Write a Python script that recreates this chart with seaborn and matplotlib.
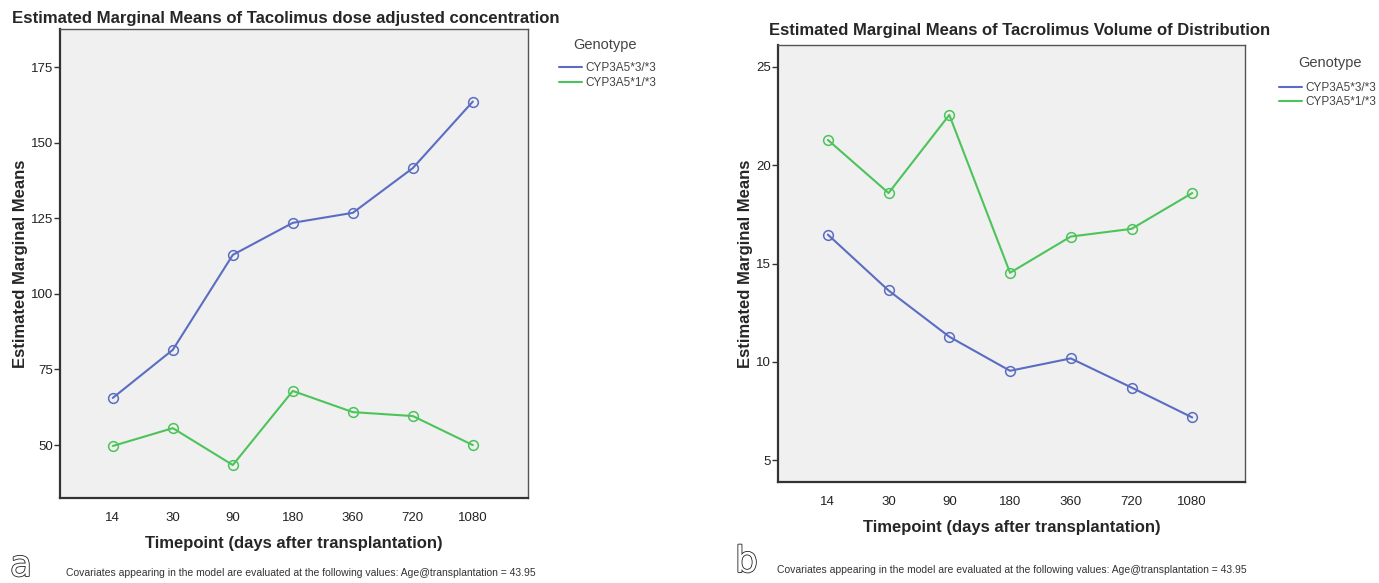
import matplotlib
matplotlib.use("Agg")
import matplotlib.pyplot as plt
import matplotlib.patheffects as pe
from matplotlib.lines import Line2D
import seaborn as sns
import pandas as pd

timepoints = ["14", "30", "90", "180", "360", "720", "1080"]
genotypes = ["CYP3A5*3/*3", "CYP3A5*1/*3"]

conc_33 = [65.6, 81.5, 112.9, 123.5, 126.8, 141.6, 163.6]
conc_13 = [49.7, 55.6, 43.4, 67.9, 60.9, 59.6, 50.0]

vd_33 = [16.47, 13.63, 11.28, 9.55, 10.18, 8.70, 7.18]
vd_13 = [21.28, 18.58, 22.55, 14.53, 16.37, 16.76, 18.58]

left_yticks = [50, 75, 100, 125, 150, 175]
right_yticks = [5, 10, 15, 20, 25]

colors = ["#5a6dc2", "#4cc45a"]

sns.set_theme(style="white")
plt.rcParams['font.family'] = ['Liberation Sans', 'DejaVu Sans']


def make_df(a, b):
    rows = []
    for g, vals in zip(genotypes, [a, b]):
        for t, v in zip(timepoints, vals):
            rows.append({"Timepoint": t, "Genotype": g, "Mean": v})
    return pd.DataFrame(rows)


fig = plt.figure(figsize=(13.79, 5.83), dpi=100)
axL = fig.add_axes([0.0435, 0.1458, 0.3394, 0.8045])
axR = fig.add_axes([0.5642, 0.1732, 0.3387, 0.7496])

for ax, df, yt, ylim, xlim in [
    (axL, make_df(conc_33, conc_13), left_yticks, (32.5, 187.6), (-0.88, 6.92)),
    (axR, make_df(vd_33, vd_13), right_yticks, (3.9, 26.1), (-0.82, 6.87)),
]:
    sns.lineplot(data=df, x="Timepoint", y="Mean", hue="Genotype",
                 hue_order=genotypes, palette=colors, sort=False,
                 marker="o", markersize=7, markerfacecolor="none",
                 markeredgewidth=1.1, linewidth=1.5, legend=False, ax=ax)
    for ln in ax.lines:
        ln.set_markeredgecolor(ln.get_color())
        ln.set_markerfacecolor("none")
    ax.set_facecolor("#f0f0f0")
    ax.set_ylim(*ylim)
    ax.set_xlim(*xlim)
    ax.set_yticks(yt)
    ax.set_yticklabels([str(v) for v in yt], fontsize=9.5, color="#222222")
    ax.set_xticks(range(len(timepoints)))
    ax.set_xticklabels(timepoints, fontsize=9.5, color="#222222")
    ax.tick_params(axis="y", direction="out", length=4, width=1, color="#333333", pad=1, left=True)
    ax.tick_params(axis="x", length=0, pad=10)
    for s in ["left", "bottom"]:
        ax.spines[s].set_color("#333333")
        ax.spines[s].set_linewidth(1.6)
    for s in ["top", "right"]:
        ax.spines[s].set_color("#555555")
        ax.spines[s].set_linewidth(1.0)
    ax.set_xlabel("Timepoint (days after transplantation)", fontsize=12,
                  fontweight="bold", labelpad=9)
    ax.set_ylabel("Estimated Marginal Means", fontsize=12, fontweight="bold",
                  labelpad=2)

fig.text(12 / 1379, 1 - 19 / 583, "Estimated Marginal Means of Tacolimus dose adjusted concentration",
         fontsize=12.1, fontweight="bold", va="center", ha="left")
fig.text(1020 / 1379, 1 - 30 / 583, "Estimated Marginal Means of Tacrolimus Volume of Distribution",
         fontsize=12, fontweight="bold", va="center", ha="center")

handles = [Line2D([0], [0], color=c, lw=1.5) for c in colors]
for x0, y0, tx, ty in [(548 / 1379, 1 - 75.5 / 583, 605 / 1379, 1 - 45 / 583),
                       (1268 / 1379, 1 - 95 / 583, 1330 / 1379, 1 - 63 / 583)]:
    leg = fig.legend(handles, genotypes, loc="center left", bbox_to_anchor=(x0, y0),
                     frameon=False, fontsize=8.5, handlelength=2.0,
                     handletextpad=0.3, labelspacing=0.22)
    for t in leg.get_texts():
        t.set_color("#444444")
    fig.text(tx, ty, "Genotype", fontsize=10.5, color="#444444", ha="center", va="center")

note = "Covariates appearing in the model are evaluated at the following values: Age@transplantation = 43.95"
fig.text(66 / 1379, 1 - 573 / 583, note, fontsize=7.5, va="center", ha="left", color="#333333")
fig.text(777 / 1379, 1 - 570 / 583, note, fontsize=7.5, va="center", ha="left", color="#333333")

for x0, y0, s in [(10 / 1379, 1 - 566 / 583, "a"), (735 / 1379, 1 - 562 / 583, "b")]:
    fig.text(x0, y0, s, fontsize=26, color="white", va="center", ha="left",
             family=['DejaVu Sans'],
             path_effects=[pe.Stroke(linewidth=1.2, foreground="#222222"), pe.Normal()])

fig.savefig("out.png", dpi=100)
